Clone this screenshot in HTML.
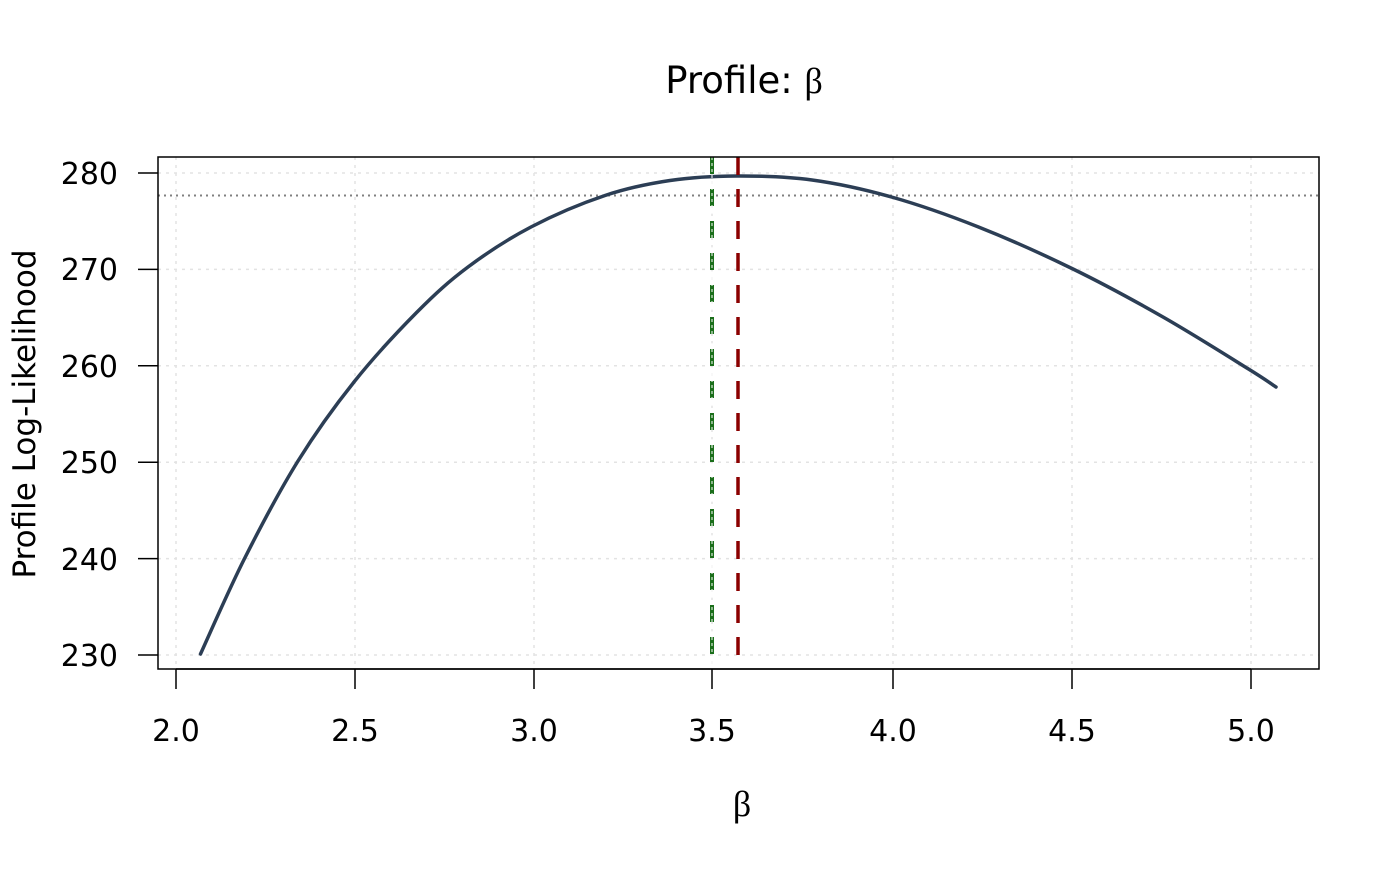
<!DOCTYPE html>
<html><head><meta charset="utf-8"><style>html,body{margin:0;padding:0;background:#fff}</style></head>
<body>
<svg width="1400" height="866" viewBox="0 0 1400 866" xmlns="http://www.w3.org/2000/svg" font-family="'DejaVu Sans','Liberation Sans',sans-serif">
<rect width="1400" height="866" fill="#fff"/>
<g stroke="#e3e3e3" stroke-width="1.5" stroke-dasharray="3,5">
<line x1="176" y1="157" x2="176" y2="669"/><line x1="355" y1="157" x2="355" y2="669"/><line x1="534" y1="157" x2="534" y2="669"/><line x1="712" y1="157" x2="712" y2="669"/><line x1="893" y1="157" x2="893" y2="669"/><line x1="1072" y1="157" x2="1072" y2="669"/><line x1="1251" y1="157" x2="1251" y2="669"/>
<line x1="158" y1="173" x2="1319" y2="173"/><line x1="158" y1="269.4" x2="1319" y2="269.4"/><line x1="158" y1="365.8" x2="1319" y2="365.8"/><line x1="158" y1="462.2" x2="1319" y2="462.2"/><line x1="158" y1="558.6" x2="1319" y2="558.6"/><line x1="158" y1="655" x2="1319" y2="655"/>
</g>
<line x1="158" y1="195.5" x2="1319" y2="195.5" stroke="#808080" stroke-width="2" stroke-dasharray="2,4"/>
<path id="curve" fill="none" stroke="#2c3e55" stroke-width="3.5" stroke-linejoin="round" stroke-linecap="round"/>
<line x1="712" y1="157" x2="712" y2="669" stroke="#1a6e1a" stroke-width="4" stroke-dasharray="17,15"/>
<line x1="712" y1="157" x2="712" y2="669" stroke="#fff" stroke-width="1" stroke-dasharray="3,3"/>
<line x1="738" y1="157" x2="738" y2="669" stroke="#8b0000" stroke-width="3.5" stroke-dasharray="18,14"/>
<rect x="158" y="157" width="1161" height="512" fill="none" stroke="#000" stroke-width="1.5"/>
<g stroke="#000" stroke-width="1.5">
<line x1="176" y1="669" x2="1251" y2="669"/>
<line x1="176" y1="669" x2="176" y2="689"/><line x1="355" y1="669" x2="355" y2="689"/><line x1="534" y1="669" x2="534" y2="689"/><line x1="712" y1="669" x2="712" y2="689"/><line x1="893" y1="669" x2="893" y2="689"/><line x1="1072" y1="669" x2="1072" y2="689"/><line x1="1251" y1="669" x2="1251" y2="689"/>
<line x1="138" y1="173" x2="158" y2="173"/><line x1="138" y1="269.4" x2="158" y2="269.4"/><line x1="138" y1="365.8" x2="158" y2="365.8"/><line x1="138" y1="462.2" x2="158" y2="462.2"/><line x1="138" y1="558.6" x2="158" y2="558.6"/><line x1="138" y1="655" x2="158" y2="655"/>
</g>
<g font-size="30" text-anchor="middle" fill="#000">
<text x="176" y="741">2.0</text><text x="355" y="741">2.5</text><text x="534" y="741">3.0</text><text x="712" y="741">3.5</text><text x="893" y="741">4.0</text><text x="1072" y="741">4.5</text><text x="1251" y="741">5.0</text>
</g>
<g font-size="30" text-anchor="end" fill="#000">
<text x="118" y="184">280</text><text x="118" y="280">270</text><text x="118" y="377">260</text><text x="118" y="473">250</text><text x="118" y="570">240</text><text x="118" y="666">230</text>
</g>
<text x="35" y="414" font-size="31" text-anchor="middle" transform="rotate(-90 35 414)">Profile Log-Likelihood</text>
<text x="744" y="93" font-size="37" text-anchor="middle">Profile: <tspan font-family="'Liberation Serif',serif" font-size="36">β</tspan></text>
<text x="742" y="816" font-size="36" text-anchor="middle" font-family="'Liberation Serif',serif">β</text>
</svg>
<script>
var p=[[200.5,654],[244.8,558],[298,461],[354,382],[416.6,312.5],[468,267],[531,227],[605,195.5],[670,180.5],[737,176],[812,180],[891.5,197],[978.5,227],[1073,269],[1163,317],[1248.5,369],[1276,387]];
var d="M"+p[0][0]+","+p[0][1];
for(var i=0;i<p.length-1;i++){var a=p[i-1]||p[i],b=p[i],c=p[i+1],e=p[i+2]||c;
d+=" C"+(b[0]+(c[0]-a[0])/6)+","+(b[1]+(c[1]-a[1])/6)+" "+(c[0]-(e[0]-b[0])/6)+","+(c[1]-(e[1]-b[1])/6)+" "+c[0]+","+c[1];}
document.getElementById("curve").setAttribute("d",d);
</script>
</body></html>
